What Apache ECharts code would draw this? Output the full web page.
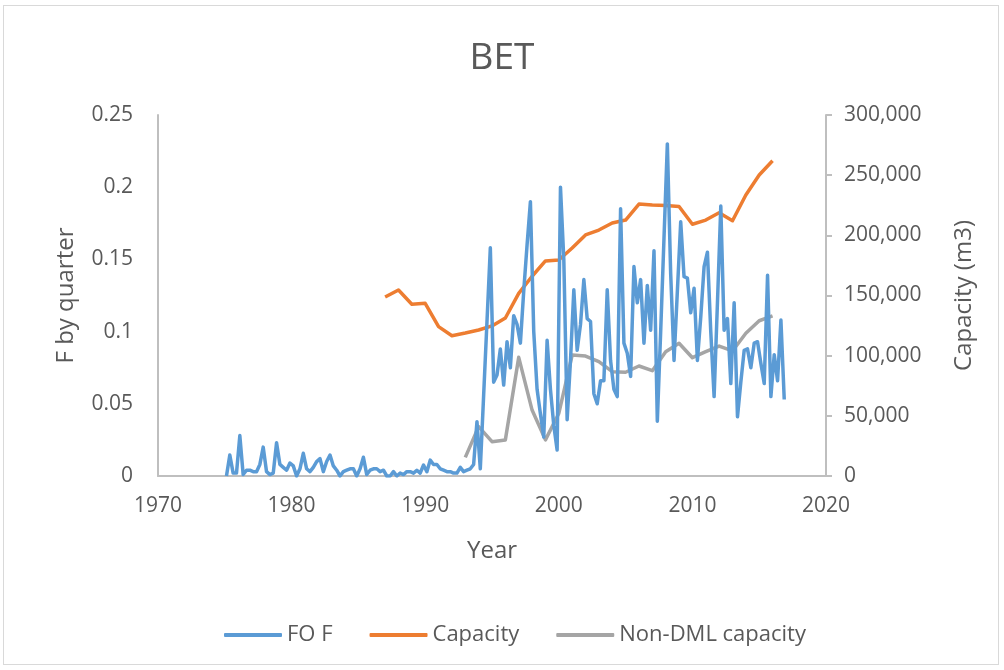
<!DOCTYPE html>
<html>
<head>
<meta charset="utf-8">
<script src="https://cdn.jsdelivr.net/npm/echarts@6/dist/echarts.min.js"></script>
<style>
html,body{margin:0;padding:0;background:#fff;}
#frame{position:absolute;left:3px;top:5px;width:996px;height:660px;border:1px solid #d9d9d9;box-sizing:border-box;}
#chart{position:absolute;left:0;top:0;width:1004px;height:670px;}
</style>
</head>
<body>
<div id="frame"></div>
<div id="chart"></div>
<script>
// FO F, quarterly, first quarter 1975
const fofStartYear = 1975;
const fofValues = [
0,0.0145,0.002,0.002,0.028,0.001,0.004,0.004,0.003,0.003,0.008,0.020,0.003,0.001,0.002,0.023,
0.008,0.006,0.004,0.009,0.007,0.0,0.005,0.0157,0.005,0.003,0.006,0.010,0.012,0.003,0.010,0.0145,
0.007,0.004,0.000,0.003,0.004,0.005,0.005,0.000,0.005,0.013,0.001,0.004,0.005,0.005,0.003,0.004,
0.0,0.0,0.003,0.0,0.002,0.001,0.003,0.003,0.002,0.004,0.002,0.0076,0.003,0.011,0.008,0.008,
0.005,0.004,0.003,0.003,0.002,0.002,0.006,0.003,0.004,0.005,0.008,0.0376,0.005,0.056,0.107,0.158,
0.065,0.07,0.088,0.063,0.093,0.075,0.111,0.105,0.092,0.128,0.16,0.19,0.10,0.06,0.043,0.027,
0.094,0.06,0.035,0.018,0.2,0.15,0.039,0.08,0.129,0.087,0.105,0.136,0.109,0.107,0.057,0.050,
0.066,0.066,0.129,0.08,0.06,0.055,0.185,0.092,0.085,0.069,0.145,0.12,0.136,0.092,0.132,0.101,
0.156,0.038,0.10,0.165,0.23,0.14,0.08,0.128,0.176,0.138,0.137,0.113,0.130,0.08,0.11,0.145,
0.155,0.10,0.055,0.12,0.187,0.101,0.109,0.064,0.12,0.041,0.065,0.087,0.088,0.075,0.092,0.093,
0.078,0.064,0.139,0.055,0.084,0.066,0.108,0.053
];
const capYears = [1987,1988,1989,1990,1991,1992,1993,1994,1995,1996,1997,1998,1999,2000,2001,2002,2003,2004,2005,2006,2007,2008,2009,2010,2011,2012,2013,2014,2015,2016];
const capValues = [148700,154600,142700,143500,124100,116600,118800,121300,124700,131300,151800,166000,178700,179500,189500,200300,204400,210300,212700,226000,225200,224800,224000,209200,212700,218800,212100,233500,250100,262000];
const nonDmlYears = [1993,1994,1995,1996,1997,1998,1999,2000,2001,2002,2003,2004,2005,2006,2007,2008,2009,2010,2011,2012,2013,2014,2015,2016];
const nonDmlValues = [15500,41000,28500,30000,98600,54800,30000,52000,100500,99700,95000,86700,86200,91400,87500,103300,110300,98300,103300,108000,103900,118600,129000,133000];
const seriesNames = ['FO F','Capacity','Non-DML capacity'];
const titleText = 'BET';

const fofData = fofValues.map((v,i)=>[fofStartYear + (i+0.5)/4, v]);
const capData = capYears.map((y,i)=>[y, capValues[i]]);
const ndData = nonDmlYears.map((y,i)=>[y, nonDmlValues[i]]);

const FONT = '"Open Sans", sans-serif';
const TXT = '#595959';
const AX = '#bfbfbf';

const chart = echarts.init(document.getElementById('chart'), null, {renderer:'canvas'});
chart.setOption({
  animation:false,
  backgroundColor:'transparent',
  title:{text:titleText,left:'center',top:35,textStyle:{fontFamily:FONT,fontSize:37,fontWeight:'normal',color:TXT}},
  legend:{
    top:619,left:219,itemWidth:58,itemHeight:4,itemGap:37,icon:'roundRect',
    textStyle:{fontFamily:FONT,fontSize:22,color:TXT},
    data:seriesNames
  },
  grid:{left:158,right:178,top:115,bottom:194,containLabel:false},
  xAxis:{
    type:'value',min:1970,max:2020,interval:10,
    name:'Year',nameLocation:'middle',nameGap:63,
    nameTextStyle:{fontFamily:FONT,fontSize:24,color:TXT},
    axisLine:{show:true,lineStyle:{color:AX,width:2}},
    axisTick:{show:false},
    splitLine:{show:false},
    axisLabel:{fontFamily:FONT,fontSize:21,color:TXT,margin:20,formatter:v=>String(v)}
  },
  yAxis:[{
    type:'value',min:0,max:0.25,interval:0.05,
    name:'F by quarter',nameLocation:'middle',nameGap:80,nameRotate:90,
    nameTextStyle:{fontFamily:FONT,fontSize:24,color:TXT},
    axisLine:{show:true,lineStyle:{color:AX,width:2}},
    axisTick:{show:false},
    splitLine:{show:false},
    axisLabel:{fontFamily:FONT,fontSize:21,color:TXT,margin:25}
  },{
    type:'value',min:0,max:300000,interval:50000,position:'right',
    name:'Capacity (m3)',nameLocation:'middle',nameGap:126,nameRotate:90,
    nameTextStyle:{fontFamily:FONT,fontSize:24,color:TXT},
    axisLine:{show:true,lineStyle:{color:AX,width:2}},
    axisTick:{show:true,length:6,lineStyle:{color:AX,width:2}},
    splitLine:{show:false},
    axisLabel:{fontFamily:FONT,fontSize:21,color:TXT,margin:18,
      formatter:v=>v.toLocaleString('en-US')}
  }],
  series:[
    {name:seriesNames[0],type:'line',yAxisIndex:0,data:fofData,showSymbol:false,
     lineStyle:{color:'#5b9bd5',width:3.5,join:'round'},itemStyle:{color:'#5b9bd5'},z:3},
    {name:seriesNames[1],type:'line',yAxisIndex:1,data:capData,showSymbol:false,
     lineStyle:{color:'#ed7d31',width:3.5,join:'round'},itemStyle:{color:'#ed7d31'},z:2},
    {name:seriesNames[2],type:'line',yAxisIndex:1,data:ndData,showSymbol:false,
     lineStyle:{color:'#a5a5a5',width:3.5,join:'round'},itemStyle:{color:'#a5a5a5'},z:2}
  ]
});
</script>
</body>
</html>
